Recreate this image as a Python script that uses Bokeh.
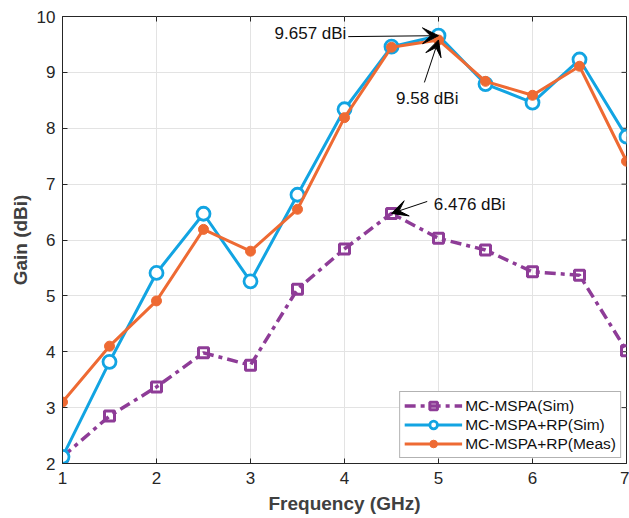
from bokeh.plotting import figure
from bokeh.models import (Range1d, Legend, LegendItem, Arrow, VeeHead, Label)
from bokeh.embed import file_html
from bokeh.resources import INLINE

freq = [1, 1.5, 2, 2.5, 3, 3.5, 4, 4.5, 5, 5.5, 6, 6.5, 7]
mspa_sim = [2.12, 2.85, 3.37, 3.98, 3.76, 5.12, 5.84, 6.476, 6.03, 5.82, 5.43, 5.37, 4.02]
rp_sim = [2.12, 3.82, 5.41, 6.47, 5.26, 6.81, 8.34, 9.46, 9.657, 8.79, 8.46, 9.23, 7.85]
rp_meas = [3.10, 4.10, 4.91, 6.19, 5.80, 6.55, 8.19, 9.45, 9.58, 8.84, 8.59, 9.11, 7.41]

x_ticks = [1, 2, 3, 4, 5, 6, 7]
y_ticks = [2, 3, 4, 5, 6, 7, 8, 9, 10]

names = ["MC-MSPA(Sim)", "MC-MSPA+RP(Sim)", "MC-MSPA+RP(Meas)"]
colors = ["#8E3C97", "#12A4E2", "#EE6A33"]

# annotation texts and their anchor positions (data units)
ann_texts = ["9.657 dBi", "9.58 dBi", "6.476 dBi"]
ann_text_x = [4.02, 4.88, 4.95]
ann_text_y = [9.69, 8.53, 6.64]
ann_tail_x = [4.04, 4.85, 4.88]
ann_tail_y = [9.64, 8.82, 6.69]
ann_idx = [8, 8, 7]
ann_series = [rp_sim, rp_meas, mspa_sim]

FONT = "Liberation Sans"
TXT = "#262626"

p = figure(width=629, height=518, output_backend="svg", toolbar_location=None,
           x_range=Range1d(1, 7), y_range=Range1d(2, 10),
           min_border_left=62, min_border_top=16, min_border_right=3, min_border_bottom=55)
p.background_fill_color = "white"
p.outline_line_color = TXT
p.outline_line_width = 1

for ax in (p.xaxis[0], p.yaxis[0]):
    ax.major_tick_in = 5
    ax.major_tick_out = 0
    ax.minor_tick_in = 0
    ax.minor_tick_out = 0
    ax.axis_line_color = TXT
    ax.major_tick_line_color = TXT
    ax.major_label_text_font = FONT
    ax.major_label_text_font_size = "17px"
    ax.major_label_text_color = TXT
    ax.axis_label_text_font = FONT
    ax.axis_label_text_font_style = "bold"
    ax.axis_label_text_font_size = "19px"
    ax.axis_label_text_color = "#404040"
p.xaxis.ticker = x_ticks
p.yaxis.ticker = y_ticks
p.xaxis.axis_label = "Frequency (GHz)"
p.yaxis.axis_label = "Gain (dBi)"
p.xaxis.major_label_standoff = 8
p.xaxis.axis_label_standoff = 6
p.yaxis.major_label_standoff = 7
p.yaxis.axis_label_standoff = 3

p.xgrid.ticker = x_ticks
p.ygrid.ticker = y_ticks
p.grid.grid_line_color = "#e3e3e3"
p.grid.grid_line_width = 1

# mirrored inward ticks on top and right edges
p.segment(x0=x_ticks, y0=[10] * len(x_ticks), x1=x_ticks, y1=[10 - 0.09] * len(x_ticks),
          line_color=TXT, line_width=1)
p.segment(x0=[7] * len(y_ticks), y0=y_ticks, x1=[7 - 0.053] * len(y_ticks), y1=y_ticks,
          line_color=TXT, line_width=1)

items = []
l0 = p.line(freq, mspa_sim, line_color=colors[0], line_width=3.5, line_dash="11 5 4 5")
m0 = p.scatter(freq, mspa_sim, marker="square", size=10, line_color=colors[0], line_width=3,
               fill_alpha=0)
items.append(LegendItem(label=names[0], renderers=[l0, m0]))

l1 = p.line(freq, rp_sim, line_color=colors[1], line_width=3)
m1 = p.scatter(freq, rp_sim, marker="circle", size=13, line_color=colors[1], line_width=2.8,
               fill_color="white")
items.append(LegendItem(label=names[1], renderers=[l1, m1]))

l2 = p.line(freq, rp_meas, line_color=colors[2], line_width=3)
m2 = p.scatter(freq, rp_meas, marker="circle", size=10, line_color=colors[2], line_width=1,
               fill_color=colors[2])
items.append(LegendItem(label=names[2], renderers=[l2, m2]))

legend = Legend(items=items, location="bottom_right")
legend.label_text_font = FONT
legend.label_text_font_size = "15.5px"
legend.label_text_color = "#111111"
legend.border_line_color = "#666666"
legend.border_line_width = 1
legend.background_fill_alpha = 1
legend.glyph_width = 58
legend.glyph_height = 19
legend.label_height = 19
legend.spacing = 0
legend.padding = 4
legend.margin = 5
legend.label_standoff = 3
p.add_layout(legend, "center")

aligns = ["right", "center", "left"]
for t, tx, ty, sx, sy, i, s, al in zip(ann_texts, ann_text_x, ann_text_y, ann_tail_x, ann_tail_y,
                                       ann_idx, ann_series, aligns):
    p.add_layout(Label(x=tx, y=ty, text=t, text_font=FONT, text_font_size="17px",
                       text_color="#111111", text_align=al, text_baseline="middle"))
    p.add_layout(Arrow(x_start=sx, y_start=sy, x_end=freq[i], y_end=s[i],
                       line_color="black", line_width=1,
                       end=VeeHead(size=16, fill_color="black", line_color="black", line_width=1)))

open("out.html", "w").write(file_html(p, INLINE))
